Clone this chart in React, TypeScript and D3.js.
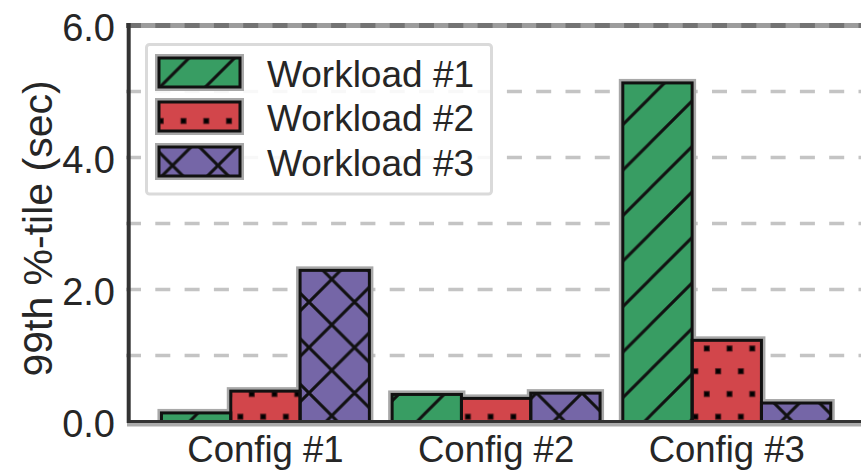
import React from "react";
import * as d3 from "d3";

const configs = ["Config #1", "Config #2", "Config #3"];
const workloads = ["Workload #1", "Workload #2", "Workload #3"];
const workload1 = [0.13, 0.41, 5.13];
const workload2 = [0.46, 0.35, 1.23];
const workload3 = [2.29, 0.43, 0.28];
const yTickLabels = [0, 2, 4, 6];
const gridValues = [1, 2, 3, 4, 5];
const colors = ["#389d63", "#d2464b", "#7566a7"];
const hatches = ["hatchSlash", "hatchDots", "hatchX"];

const FONT = "'Liberation Sans', Arial, sans-serif";
const P = 45.5;

export default function App() {
  const W = 861;
  const H = 471;
  const x0 = d3
    .scaleBand<string>()
    .domain(configs)
    .range([128.7, 863.5])
    .paddingInner(0.0986)
    .paddingOuter(0.142);
  const x1 = d3.scaleBand<string>().domain(workloads).range([0, x0.bandwidth()]);
  const y = d3.scaleLinear().domain([0, 6]).range([421.5, 25.5]);
  const series = [workload1, workload2, workload3];
  const bars = configs.flatMap((c, i) =>
    workloads.map((w, j) => ({ c, w, j, v: series[j][i] }))
  );
  const barRect = (b: any) => ({
    x: (x0(b.c) as number) + (x1(b.w) as number),
    y: y(b.v),
    width: x1.bandwidth(),
    height: y(0) - y(b.v),
  });

  const legendRows = [72.5, 116.5, 161.5];
  const legendBase = [86.5, 131, 175.5];

  return (
    <svg
      width={W}
      height={H}
      style={{ position: "absolute", left: 0, top: 0, background: "#fff" }}
    >
      <defs>
        <pattern id="hatchSlash" patternUnits="userSpaceOnUse" x={13.25} y={6.25} width={P} height={P}>
          <path
            d={`M0,${P} L${P},0 M-3,3 L3,-3 M${P - 3},${P + 3} L${P + 3},${P - 3}`}
            stroke="#111"
            strokeWidth={3}
          />
        </pattern>
        <pattern id="hatchX" patternUnits="userSpaceOnUse" x={13.25} y={6.25} width={P} height={P}>
          <path
            d={`M0,${P} L${P},0 M-3,3 L3,-3 M${P - 3},${P + 3} L${P + 3},${P - 3} M0,0 L${P},${P} M${P - 3},-3 L${P + 3},3 M-3,${P - 3} L3,${P + 3}`}
            stroke="#111"
            strokeWidth={3}
          />
        </pattern>
        <pattern id="hatchDots" patternUnits="userSpaceOnUse" x={-4.2} y={0} width={P / 2} height={P}>
          <rect x={5.7 - 3} y={30 - 3} width={6} height={6} fill="#3a1214" />
          <rect x={5.7 - 2} y={30 - 2} width={4} height={4} fill="#000" />
          <rect x={17.1 - 3} y={7.25 - 3} width={6} height={6} fill="#3a1214" />
          <rect x={17.1 - 2} y={7.25 - 2} width={4} height={4} fill="#000" />
        </pattern>
      </defs>

      {/* grid */}
      {gridValues.map((v) => (
        <line
          key={v}
          x1={126}
          x2={870}
          y1={y(v)}
          y2={y(v)}
          stroke="#c4c4c4"
          strokeWidth={3.5}
          strokeDasharray="15 14.3"
        />
      ))}
      {/* top spine + grid at 6 */}
      <line x1={127} x2={870} y1={y(6)} y2={y(6)} stroke="#9c9c9c" strokeWidth={5} />
      <line
        x1={126}
        x2={870}
        y1={y(6)}
        y2={y(6)}
        stroke="#737373"
        strokeWidth={5}
        strokeDasharray="15 14.3"
      />

      {/* bar halos */}
      {bars.map((b, i) => {
        const r = barRect(b);
        return <rect key={"h" + i} {...r} fill="none" stroke="#a8a8a8" strokeWidth={8} />;
      })}
      {bars.map((b, i) => {
        const r = barRect(b);
        return (
          <g key={"b" + i}>
            <rect {...r} fill={colors[b.j]} />
            <rect {...r} fill={`url(#${hatches[b.j]})`} />
          </g>
        );
      })}
      {bars.map((b, i) => {
        const r = barRect(b);
        return <rect key={"s" + i} {...r} fill="none" stroke="#111" strokeWidth={3} />;
      })}

      {/* spines */}
      <line x1={127} x2={870} y1={424.8} y2={424.8} stroke="#ababab" strokeWidth={3.5} />
      <line x1={127} x2={870} y1={y(0)} y2={y(0)} stroke="#333" strokeWidth={3} />
      <line x1={128.7} x2={128.7} y1={23} y2={423} stroke="#333" strokeWidth={4} />

      {/* y tick labels */}
      {yTickLabels.map((v) => (
        <text
          key={v}
          x={115}
          y={y(v) + 0.36 * 38 + 2}
          textAnchor="end"
          fontFamily={FONT}
          fontSize={38}
          fill="#262626"
        >
          {v.toFixed(1)}
        </text>
      ))}

      {/* x labels */}
      {configs.map((c) => (
        <text
          key={c}
          x={(x0(c) as number) + x0.bandwidth() / 2}
          y={462}
          textAnchor="middle"
          fontFamily={FONT}
          fontSize={36.5}
          fill="#262626"
        >
          {c}
        </text>
      ))}

      {/* y axis label */}
      <text
        transform="translate(52,228.5) rotate(-90)"
        textAnchor="middle"
        fontFamily={FONT}
        fontSize={41}
        fill="#262626"
      >
        99th %-tile (sec)
      </text>

      {/* legend */}
      <rect
        x={146.5}
        y={44.5}
        width={345}
        height={149.5}
        rx={3}
        fill="#fff"
        fillOpacity={0.88}
        stroke="#dadada"
        strokeWidth={3}
      />
      {workloads.map((w, j) => {
        const r = { x: 159, y: legendRows[j] - 14.5, width: 81, height: 29 };
        return (
          <g key={w}>
            <rect {...r} fill="none" stroke="#a8a8a8" strokeWidth={8} />
            <rect {...r} fill={colors[j]} />
            <rect {...r} fill={`url(#${hatches[j]})`} />
            <rect {...r} fill="none" stroke="#111" strokeWidth={3} />
            <text x={267} y={legendBase[j]} fontFamily={FONT} fontSize={37} fill="#262626">
              {w}
            </text>
          </g>
        );
      })}
    </svg>
  );
}
